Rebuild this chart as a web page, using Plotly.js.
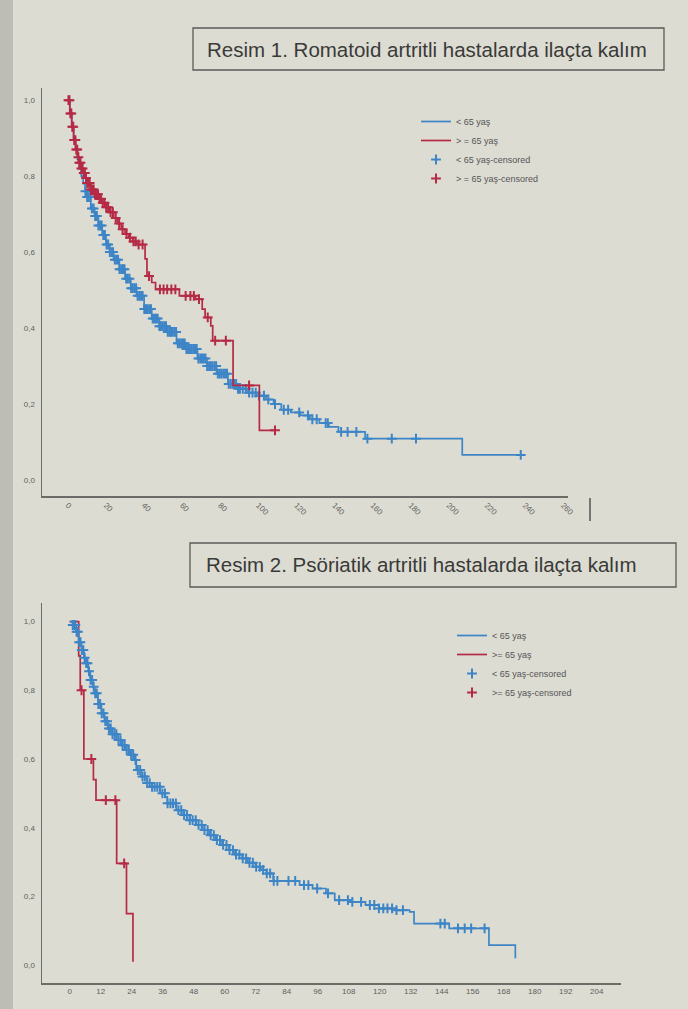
<!DOCTYPE html>
<html><head><meta charset="utf-8">
<script src="https://cdn.plot.ly/plotly-3.0.1.min.js"></script>
<style>html,body{margin:0;padding:0;background:#dcdcd3;} #chart{width:688px;height:1009px;}</style>
</head><body><div id="chart"></div>
<script>
// ---------- Resim 1: Romatoid artrit ----------
const raTicks = [0,20,40,60,80,100,120,140,160,180,200,220,240,260];
const raLt65T = [0,1,2,3,4,5,6,7,8,9,10,12,14,16,18,20,22,24,27,30,33,36,40,44,48,52,57,62,68,73,78,84,89,94,99,104,108,112,117,122,127,132,137,142,156,207,238];
const raLt65S = [1,.965,.93,.9,.87,.845,.82,.8,.78,.76,.745,.715,.695,.67,.645,.62,.6,.58,.555,.53,.505,.485,.45,.425,.405,.39,.36,.345,.32,.3,.28,.253,.24,.23,.222,.212,.2,.185,.178,.17,.16,.15,.14,.127,.109,.066,.066];
const raGe65T = [0,1,2,3,4,5,6,7,8,9,10,12,14,16,18,20,22,24,26,28,30,32,34,36,40.5,41.5,44,46,58.5,67,70.5,72,75,76,86.7,100.5,108.7];
const raGe65S = [1,.965,.93,.895,.87,.85,.835,.82,.808,.795,.782,.765,.752,.74,.73,.718,.705,.69,.675,.66,.648,.638,.628,.62,.582,.537,.52,.502,.485,.476,.45,.428,.406,.367,.249,.131,.131];
const raLt65CensT = [9.2,10.1,10.9,11.8,12.6,13.5,14.3,15.2,16,16.9,17.7,18.6,19.4,20.3,21.1,22,22.9,23.7,24.6,25.4,26.3,27.1,28,28.9,29.7,30.6,31.4,32.3,33.2,34,34.9,35.8,36.6,37.5,38.4,39.2,40.1,41,41.8,42.7,43.6,44.5,45.3,46.2,47.1,48,48.8,49.7,50.6,51.5,52.4,53.3,54.1,55,55.9,56.8,57.7,58.6,59.5,60.4,61.3,62.2,63.1,64,64.9,65.8,66.7,67.6,68.5,69.5,70.4,71.3,72.2,73.1,74.1,75,75.9,76.9,77.8,78.7,79.7,80.6,81.6,82.5,83.5,84.4,85.4,86.4,87.3,88.3,89.3,90.3,91.8,93.4,95.1,96.9,98.6,100.3,102.9,105.2,108.7,113.3,115.6,121.4,126,128.3,130.6,135.3,136.4,143.4,146.8,151.4,157.2,170,182.7,237.7];
const raGe65CensT = [0.3,0.8,1.3,1.8,2.3,2.8,3.3,3.9,4.4,4.9,5.5,6,6.6,7.1,7.7,8.3,8.9,9.5,10.1,10.8,11.4,12.1,12.8,13.5,14.2,15,15.8,16.6,17.4,18.3,19.2,20.1,21.1,22.4,23.6,25.1,26.9,28.7,30.8,32.6,34.4,35.6,37.1,39.2,42.6,48.3,50.2,52.1,54.3,56.4,61.8,64.3,66.1,68.8,73.4,77.3,82.9,95.1,108.7];

// ---------- Resim 2: Psöriatik artrit ----------
const psaTicks = [0,12,24,36,48,60,72,84,96,108,120,132,144,156,168,180,192,204];
const psaLt65T = [0,1.2,2.5,3.5,4.6,5.5,6.3,7.2,8,9,9.7,11,12.3,13.5,14.8,16.5,18.2,20,21.6,23.3,25,25.8,27.6,30,31.9,35,37,37.8,41.3,44,46.4,49,51.5,54,56.6,59,61.7,64,66.8,69,71.9,74,76.2,78.8,89,94,99.2,102.6,109.4,114.5,119.7,126.5,131.6,133.3,146.9,162.3,172.5];
const psaLt65S = [1,.99,.97,.94,.917,.895,.879,.855,.83,.81,.791,.76,.733,.71,.689,.672,.655,.64,.626,.612,.597,.568,.549,.53,.519,.5,.49,.471,.451,.437,.422,.408,.393,.378,.364,.35,.335,.322,.311,.298,.286,.277,.267,.245,.233,.223,.209,.189,.184,.175,.165,.16,.155,.121,.107,.058,.02];
const psaGe65T = [0,3.5,4.1,5.5,9.2,10.2,18.2,22,24.5];
const psaGe65S = [1,.9,.8,.6,.54,.48,.296,.15,.01];
const psaLt65CensT = [1.2,1.7,2.2,2.7,3.2,3.7,4.2,4.7,5.3,5.8,6.4,6.9,7.5,8.1,8.7,9.3,9.9,10.5,11.1,11.8,12.4,13.1,13.8,14.5,15.2,15.9,16.6,17.4,18.1,18.9,19.7,20.5,21.3,22.1,22.9,23.8,24.6,25.5,26.4,27.3,28.2,29.1,30,31,31.9,32.9,33.9,34.9,35.9,36.9,37.9,39,40,41.1,42.1,43.2,44.3,45.4,46.5,47.6,48.8,49.9,51.1,52.2,53.4,54.6,55.8,57,58.2,59.4,60.7,61.9,63.2,64.4,65.7,67,68.3,69.6,70.9,72.2,73.6,74.9,76.3,77.6,79,80.4,84.7,87.3,90.7,92.4,95.8,100,104.3,107.7,109.4,112.8,116.2,117.9,119.7,121.4,123,124.8,126.5,129,143.5,145.2,150.3,152.9,155.4,160.6];
const psaGe65CensT = [4.6,8.4,14,17.7,21.1];

// step-curve value at censoring time (censor marks sit on the curve)
function stepAt(ts, ss, t){ let v = ss[0]; for (let i=0;i<ts.length;i++){ if (ts[i] <= t) v = ss[i]; } return v; }
const onCurve = (ts, ss, cs) => cs.map(t => stepAt(ts, ss, t));

const BLUE = '#3d85c6', RED = '#b52a45';
const W = 688, H = 1009;
const px = x => x / W, py = y => 1 - y / H;

function lineTrace(x, y, color, name, xa, ya, leg, rank){
  return {x, y, type:'scatter', mode:'lines', line:{shape:'hv', color, width:1.7}, name,
          xaxis:xa, yaxis:ya, legend:leg, legendrank:rank, hoverinfo:'skip'};
}
function censTrace(x, y, color, name, xa, ya, leg, rank){
  return {x, y, type:'scatter', mode:'markers', name, xaxis:xa, yaxis:ya, legend:leg, legendrank:rank,
          marker:{symbol:'cross-thin-open', size:7, color, line:{color, width:2}}, hoverinfo:'skip'};
}

const traces = [
  lineTrace(raLt65T, raLt65S, BLUE, '< 65 yaş', 'x', 'y', 'legend', 1),
  censTrace(raLt65CensT, onCurve(raLt65T, raLt65S, raLt65CensT), BLUE, '< 65 yaş-censored', 'x', 'y', 'legend', 3),
  lineTrace(raGe65T, raGe65S, RED, '> = 65 yaş', 'x', 'y', 'legend', 2),
  censTrace(raGe65CensT, onCurve(raGe65T, raGe65S, raGe65CensT), RED, '> = 65 yaş-censored', 'x', 'y', 'legend', 4),

  lineTrace(psaGe65T, psaGe65S, RED, '>= 65 yaş', 'x2', 'y2', 'legend2', 2),
  censTrace(psaGe65CensT, onCurve(psaGe65T, psaGe65S, psaGe65CensT), RED, '>= 65 yaş-censored', 'x2', 'y2', 'legend2', 4),
  lineTrace(psaLt65T, psaLt65S, BLUE, '< 65 yaş', 'x2', 'y2', 'legend2', 1),
  censTrace(psaLt65CensT, onCurve(psaLt65T, psaLt65S, psaLt65CensT), BLUE, '< 65 yaş-censored', 'x2', 'y2', 'legend2', 3)
];

const yVals = [0, .2, .4, .6, .8, 1];
const yText = ['0,0','0,2','0,4','0,6','0,8','1,0'];
const axisBase = {showgrid:false, zeroline:false, showline:true, linecolor:'#6b6b68', linewidth:1.5,
                  ticks:'', tickfont:{family:'Liberation Sans, Arial', size:8, color:'#5f5f5b'}, fixedrange:true};
const legendBase = {bgcolor:'rgba(0,0,0,0)', font:{family:'Liberation Sans, Arial', size:9, color:'#555'},
                    xanchor:'left', yanchor:'top', traceorder:'normal', itemwidth:30, tracegroupgap:0};

const layout = {
  width: W, height: H, margin:{l:0, r:0, t:0, b:0},
  paper_bgcolor:'#dcdcd3', plot_bgcolor:'rgba(0,0,0,0)',
  showlegend:true,
  xaxis: Object.assign({}, axisBase, {domain:[px(42), px(568)], range:[-13.6, 262.5], anchor:'y',
          tickmode:'array', tickvals:raTicks, ticktext:raTicks.map(String), tickangle:45}),
  yaxis: Object.assign({}, axisBase, {domain:[py(496), py(88)], range:[-0.042, 1.032], anchor:'x',
          tickmode:'array', tickvals:yVals, ticktext:yText, ticklabelstandoff:4}),
  xaxis2: Object.assign({}, axisBase, {domain:[px(42), px(621)], range:[-10.7, 213.4], anchor:'y2',
          tickmode:'array', tickvals:psaTicks, ticktext:psaTicks.map(String)}),
  yaxis2: Object.assign({}, axisBase, {domain:[py(983), py(603)], range:[-0.052, 1.054], anchor:'x2',
          tickmode:'array', tickvals:yVals, ticktext:yText, ticklabelstandoff:4}),
  legend: Object.assign({}, legendBase, {x:px(416), y:py(107)}),
  legend2: Object.assign({}, legendBase, {x:px(452), y:py(621)}),
  shapes: [
    {type:'rect', xref:'paper', yref:'paper', x0:0, x1:px(13), y0:0, y1:1, fillcolor:'#bdbdb6', line:{width:0}, layer:'below'},
    {type:'rect', xref:'paper', yref:'paper', x0:px(193), x1:px(664), y0:py(70), y1:py(28), fillcolor:'rgba(0,0,0,0)', line:{color:'#5a5a58', width:1.3}},
    {type:'rect', xref:'paper', yref:'paper', x0:px(190), x1:px(676), y0:py(587), y1:py(543), fillcolor:'rgba(0,0,0,0)', line:{color:'#5a5a58', width:1.3}},
    {type:'line', xref:'paper', yref:'paper', x0:px(590), x1:px(590), y0:py(498), y1:py(521), line:{color:'#555', width:1.5}}
  ],
  annotations: [
    {xref:'paper', yref:'paper', x:px(427), y:py(49), text:'Resim 1. Romatoid artritli hastalarda ilaçta kalım', showarrow:false,
     font:{family:'Liberation Sans, Arial', size:20.5, color:'#3a3a38'}, xanchor:'center', yanchor:'middle'},
    {xref:'paper', yref:'paper', x:px(421), y:py(564), text:'Resim 2. Psöriatik artritli hastalarda ilaçta kalım', showarrow:false,
     font:{family:'Liberation Sans, Arial', size:20.5, color:'#3a3a38'}, xanchor:'center', yanchor:'middle'}
  ]
};

Plotly.newPlot('chart', traces, layout, {displayModeBar:false, staticPlot:true});
</script></body></html>
